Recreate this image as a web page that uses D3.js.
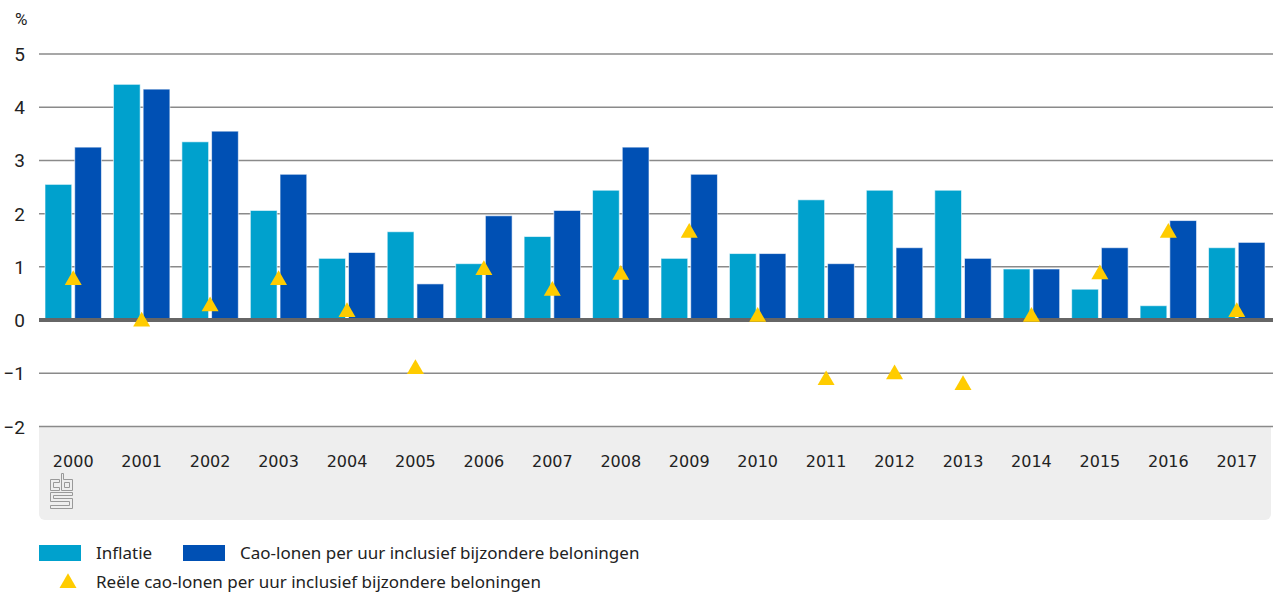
<!DOCTYPE html>
<html>
<head>
<meta http-equiv='Content-Type' content='text/html;charset=utf-8'/>
<title>Inflatie en cao-lonen</title>
<script src='https://d3js.org/d3.v7.min.js'></script>
<style>
body {
	margin: 0;
	background: #ffffff;
	font-family: 'Noto Sans', sans-serif;
}
text {
	fill: #222222;
}
.tick-label {
	font-family: Roboto, sans-serif;
	font-size: 19px;
}
.year-label {
	font-family: 'DejaVu Sans', sans-serif;
	font-size: 16px;
}
.legend-label {
	font-family: 'Noto Sans', sans-serif;
	font-size: 17px;
}
</style>
</head>
<body>
<script>
'use strict'

// data
const years = ['2000', '2001', '2002', '2003', '2004', '2005', '2006', '2007', '2008',
	'2009', '2010', '2011', '2012', '2013', '2014', '2015', '2016', '2017']
const inflatie = [2.55, 4.43, 3.35, 2.06, 1.16, 1.66, 1.06, 1.57, 2.44,
	1.16, 1.25, 2.26, 2.44, 2.44, 0.96, 0.58, 0.27, 1.36]
const caoLonen = [3.25, 4.34, 3.55, 2.74, 1.27, 0.68, 1.96, 2.06, 3.25,
	2.74, 1.25, 1.06, 1.36, 1.16, 0.96, 1.36, 1.87, 1.46]
const reeel = [0.75, -0.03, 0.26, 0.75, 0.15, -0.92, 0.94, 0.55, 0.85,
	1.64, 0.06, -1.13, -1.02, -1.22, 0.06, 0.86, 1.64, 0.15]
const yTicks = [-2, -1, 0, 1, 2, 3, 4, 5]
const seriesNames = ['Inflatie', 'Cao-lonen per uur inclusief bijzondere beloningen']
const triangleName = 'Reële cao-lonen per uur inclusief bijzondere beloningen'

const colours = ['#00a1cd', '#0050b4']
const triColour = '#ffcc00'

const width = 1273
const height = 594
const left = 39
const right = 1271

const svg = d3.select('body').append('svg')
	.attr('width', width)
	.attr('height', height)

const y = d3.scaleLinear().domain([-2, 5]).range([426.5, 54])
const x0 = d3.scaleBand().domain(years).range([left, right])
const x1 = d3.scaleBand().domain([0, 1]).range([6, x0.bandwidth() - 6]).paddingInner(0.1)

// grey band under the plot with category labels
svg.append('path')
	.attr('d', 'M' + left + ',' + y(-2) + 'H' + right + 'V' + 514 +
		'a6,6 0 0 1 -6,6H' + (left + 6) + 'a6,6 0 0 1 -6,-6Z')
	.attr('fill', '#eeeeee')

// gridlines
svg.append('g').selectAll('line')
	.data(yTicks)
	.join('line')
	.attr('x1', left)
	.attr('x2', width)
	.attr('y1', d => y(d))
	.attr('y2', d => y(d))
	.attr('stroke', d => d == 0 ? '#666666' : '#8a8a8a')
	.attr('stroke-width', d => d == 0 ? 4 : 1.5)

// y labels
svg.append('g').selectAll('text')
	.data(yTicks)
	.join('text')
	.attr('class', 'tick-label')
	.attr('x', 25)
	.attr('y', d => y(d) + 7)
	.attr('text-anchor', 'end')
	.text(d => d < 0 ? '\u2212' + Math.abs(d) : d)

svg.append('text')
	.attr('x', 15)
	.attr('y', 25)
	.style('font-family', 'Roboto, sans-serif')
	.style('font-size', '17px')
	.text('%')

// bars
const groups = svg.append('g').selectAll('g')
	.data(years)
	.join('g')
	.attr('transform', d => 'translate(' + x0(d) + ',0)')

groups.selectAll('rect')
	.data((d, i) => [inflatie[i], caoLonen[i]])
	.join('rect')
	.attr('x', (d, j) => x1(j))
	.attr('width', x1.bandwidth())
	.attr('y', d => y(Math.max(0, d)))
	.attr('height', d => Math.abs(y(d) - y(0)))
	.attr('fill', (d, j) => colours[j])
	.attr('stroke', 'rgba(255,255,255,0.6)')
	.attr('stroke-width', 1)

// redraw zero line above bars
svg.append('line')
	.attr('x1', left)
	.attr('x2', width)
	.attr('y1', y(0))
	.attr('y2', y(0))
	.attr('stroke', '#666666')
	.attr('stroke-width', 4)

// triangles
const tri = d3.symbol().type(d3.symbolTriangle).size(125)
svg.append('g').selectAll('path')
	.data(reeel)
	.join('path')
	.attr('d', tri)
	.attr('transform', (d, i) => 'translate(' + (x0(years[i]) + x0.bandwidth() / 2) + ',' + y(d) + ')')
	.attr('fill', triColour)

// category labels
svg.append('g').selectAll('text')
	.data(years)
	.join('text')
	.attr('class', 'year-label')
	.attr('x', d => x0(d) + x0.bandwidth() / 2)
	.attr('y', 467)
	.attr('text-anchor', 'middle')
	.text(d => d)

// small cbs logo
const logo = svg.append('g')
	.attr('transform', 'translate(50,473)')
	.attr('fill', 'none')
	.attr('stroke', '#999999')
	.attr('stroke-width', 1)
logo.append('path').attr('d', 'M0.5,6.5H9.5V9.5H3.5V14.5H9.5V17.5H0.5Z')
logo.append('path').attr('d', 'M11.5,0.5H13.5V6.5H22.5V17.5H11.5Z M14.5,9.5H19.5V14.5H14.5Z')
logo.append('path').attr('d', 'M0.5,19.5H22.5V22.5H3.5V25.5H22.5V35.5H0.5V32.5H19.5V28.5H0.5Z')

// legend
const legend = svg.append('g')
legend.append('rect').attr('x', 39).attr('y', 545).attr('width', 42).attr('height', 16).attr('fill', colours[0])
legend.append('text').attr('class', 'legend-label').attr('x', 96).attr('y', 559).text(seriesNames[0])
legend.append('rect').attr('x', 183).attr('y', 545).attr('width', 42).attr('height', 16).attr('fill', colours[1])
legend.append('text').attr('class', 'legend-label').attr('x', 240).attr('y', 559).text(seriesNames[1])
legend.append('path').attr('d', tri).attr('transform', 'translate(68,583)').attr('fill', triColour)
legend.append('text').attr('class', 'legend-label').attr('x', 96).attr('y', 588).text(triangleName)
</script>
</body>
</html>
